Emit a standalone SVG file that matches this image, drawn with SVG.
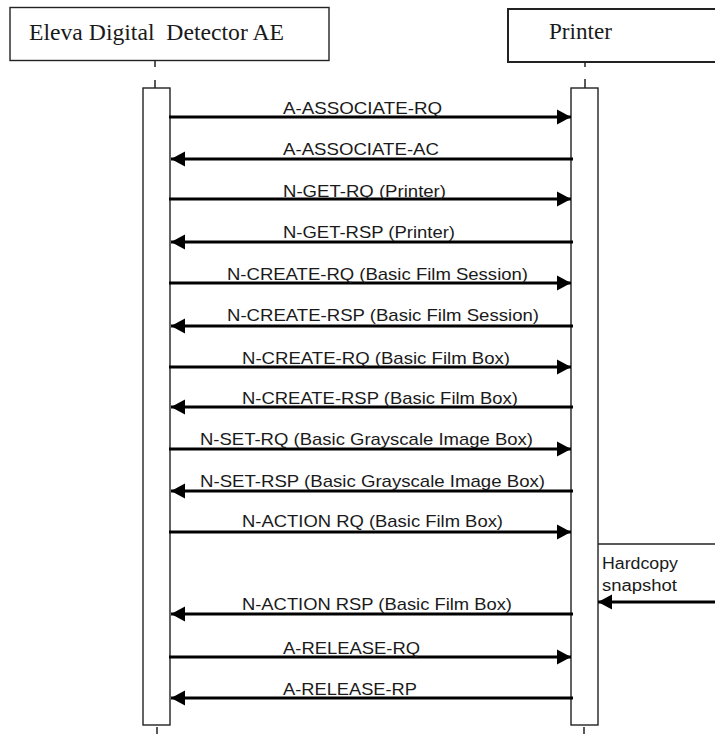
<svg xmlns="http://www.w3.org/2000/svg" width="715" height="734" viewBox="0 0 715 734">
<style>
.box{fill:#fff;stroke:#222;stroke-width:1.4}
.tick{stroke:#222;stroke-width:1.5}
.hdr{font-family:"Liberation Serif","Times New Roman",serif;font-size:24px;fill:#1a1a1a}
.msg{font-family:"Liberation Sans",Arial,sans-serif;font-size:17px;fill:#1a1a1a}
.note{font-family:"Liberation Sans",Arial,sans-serif;font-size:16px;fill:#1a1a1a}
.arr{stroke:#000;stroke-width:3;fill:none}
.thin{stroke:#222;stroke-width:1.4;fill:none}
</style>
<defs>
<marker id="ah" markerUnits="userSpaceOnUse" markerWidth="15" markerHeight="16" refX="14" refY="8" orient="auto">
<path d="M0,0.5 L14,8 L0,15.5 Z" fill="#000"/>
</marker>
</defs>
<rect width="715" height="734" fill="#fff"/>
<g id="eleva">
<rect class="box" x="10" y="7.5" width="319" height="53"/>
<text class="hdr" x="29" y="40" textLength="255" lengthAdjust="spacingAndGlyphs">Eleva Digital&#160; Detector AE</text>
<line class="tick" x1="155" y1="60" x2="155" y2="67"/>
<line class="tick" x1="155" y1="80" x2="155" y2="88"/>
<rect class="box" x="143" y="88" width="27" height="637"/>
<line class="tick" x1="157" y1="727" x2="157" y2="734"/>
</g>
<g id="printer">
<rect class="box" x="508" y="9" width="220" height="53" style="stroke-width:2"/>
<text class="hdr" x="549" y="39" textLength="63" lengthAdjust="spacingAndGlyphs">Printer</text>
<line class="tick" x1="585" y1="62" x2="585" y2="67"/>
<line class="tick" x1="585" y1="79" x2="585" y2="88"/>
<rect class="box" x="571" y="88" width="27" height="637"/>
<line class="tick" x1="584" y1="727" x2="584" y2="734"/>
</g>
<g id="hardcopy">
<line class="thin" x1="598" y1="544" x2="715" y2="544"/>
<text class="note" x="602" y="569" textLength="76" lengthAdjust="spacingAndGlyphs">Hardcopy</text>
<text class="note" x="602" y="591" textLength="75" lengthAdjust="spacingAndGlyphs">snapshot</text>
</g>
<g id="connectors">
<line class="arr" x1="169" y1="117" x2="571" y2="117" marker-end="url(#ah)"/>
<line class="arr" x1="573" y1="159" x2="171" y2="159" marker-end="url(#ah)"/>
<line class="arr" x1="169" y1="199" x2="571" y2="199" marker-end="url(#ah)"/>
<line class="arr" x1="573" y1="242" x2="171" y2="242" marker-end="url(#ah)"/>
<line class="arr" x1="169" y1="283" x2="571" y2="283" marker-end="url(#ah)"/>
<line class="arr" x1="573" y1="326" x2="171" y2="326" marker-end="url(#ah)"/>
<line class="arr" x1="169" y1="367" x2="571" y2="367" marker-end="url(#ah)"/>
<line class="arr" x1="573" y1="407" x2="171" y2="407" marker-end="url(#ah)"/>
<line class="arr" x1="169" y1="449" x2="571" y2="449" marker-end="url(#ah)"/>
<line class="arr" x1="573" y1="491" x2="171" y2="491" marker-end="url(#ah)"/>
<line class="arr" x1="169" y1="532" x2="571" y2="532" marker-end="url(#ah)"/>
<line class="arr" x1="715" y1="602" x2="598" y2="602" marker-end="url(#ah)"/>
<line class="arr" x1="573" y1="614" x2="171" y2="614" marker-end="url(#ah)"/>
<line class="arr" x1="169" y1="657" x2="571" y2="657" marker-end="url(#ah)"/>
<line class="arr" x1="573" y1="698" x2="171" y2="698" marker-end="url(#ah)"/>
</g>
<g id="labels">
<text class="msg" x="283" y="114" textLength="159" lengthAdjust="spacingAndGlyphs">A-ASSOCIATE-RQ</text>
<text class="msg" x="283" y="155" textLength="156" lengthAdjust="spacingAndGlyphs">A-ASSOCIATE-AC</text>
<text class="msg" x="283" y="197" textLength="163" lengthAdjust="spacingAndGlyphs">N-GET-RQ (Printer)</text>
<text class="msg" x="283" y="238" textLength="172" lengthAdjust="spacingAndGlyphs">N-GET-RSP (Printer)</text>
<text class="msg" x="227" y="280" textLength="301" lengthAdjust="spacingAndGlyphs">N-CREATE-RQ (Basic Film Session)</text>
<text class="msg" x="227" y="321" textLength="312" lengthAdjust="spacingAndGlyphs">N-CREATE-RSP (Basic Film Session)</text>
<text class="msg" x="242" y="364" textLength="268" lengthAdjust="spacingAndGlyphs">N-CREATE-RQ (Basic Film Box)</text>
<text class="msg" x="242" y="404" textLength="276" lengthAdjust="spacingAndGlyphs">N-CREATE-RSP (Basic Film Box)</text>
<text class="msg" x="200" y="445" textLength="333" lengthAdjust="spacingAndGlyphs">N-SET-RQ (Basic Grayscale Image Box)</text>
<text class="msg" x="200" y="487" textLength="345" lengthAdjust="spacingAndGlyphs">N-SET-RSP (Basic Grayscale Image Box)</text>
<text class="msg" x="242" y="527" textLength="261" lengthAdjust="spacingAndGlyphs">N-ACTION RQ (Basic Film Box)</text>
<text class="msg" x="242" y="610" textLength="270" lengthAdjust="spacingAndGlyphs">N-ACTION RSP (Basic Film Box)</text>
<text class="msg" x="283" y="654" textLength="137" lengthAdjust="spacingAndGlyphs">A-RELEASE-RQ</text>
<text class="msg" x="283" y="695" textLength="134" lengthAdjust="spacingAndGlyphs">A-RELEASE-RP</text>
</g>
</svg>
